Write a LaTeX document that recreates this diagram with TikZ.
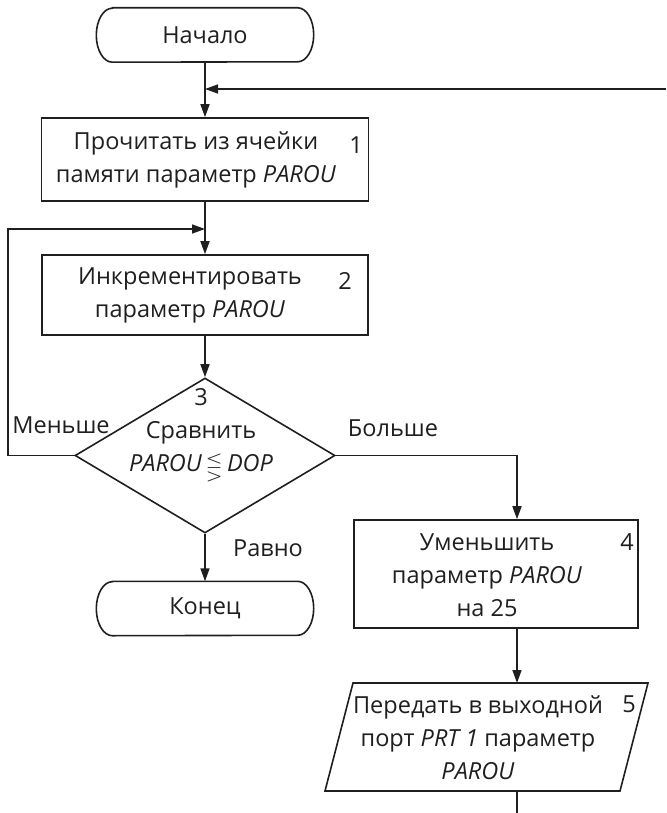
\documentclass[tikz,border=0pt]{standalone}
\usepackage{amssymb}
\usepackage{fontspec}
\setmainfont{Open Sans}
\usetikzlibrary{arrows.meta,shapes.geometric}

\begin{document}
\begin{tikzpicture}[x=1pt,y=-1pt,
  line/.style={line width=1.6pt, draw=black!88},
  arr/.style={line, -{Triangle[length=13pt,width=9pt]}},
  fnt/.style={font=\fontsize{23.5pt}{33pt}\selectfont, text=black!88},
  box/.style={line, rectangle, inner sep=0pt},
  term/.style={inner sep=0pt, minimum width=217pt, minimum height=54pt, fnt},
  txt/.style={fnt, align=center, inner sep=0pt},
  num/.style={fnt, inner sep=0pt, anchor=north east},
  lbl/.style={fnt, inner sep=0pt, anchor=base},
]
\useasboundingbox (0,0) rectangle (666,813);

% terminators
\node[term] (start) at (205,35) {Начало};
\node[term] (stop)  at (205,608.5) {Конец};
\foreach \t in {start,stop}{
  \draw[line] ([xshift=16pt]\t.north west) -- ([xshift=-16pt]\t.north east)
    arc[start angle=90, end angle=-90, x radius=16pt, y radius=27pt]
    -- ([xshift=16pt]\t.south west)
    arc[start angle=-90, end angle=-270, x radius=16pt, y radius=27pt] -- cycle;
}

% process blocks
\node[box, minimum width=327pt, minimum height=83pt] (b1) at (205,159.5) {};
\node[txt] (t1) at (196,160) {Прочитать из ячейки\\памяти параметр \textit{PAROU}};
\node[num] (n1) at (363,137) {1};

\node[box, minimum width=326pt, minimum height=80pt] (b2) at (205,295) {};
\node[txt] (t2) at (190,295) {Инкрементировать\\параметр \textit{PAROU}};
\node[num] (n2) at (352,272) {2};

% decision
\node[line, diamond, minimum width=260pt, minimum height=155pt, inner sep=0pt] (d3) at (205,455.5) {};
\node[txt] (t3) at (201,435) {3\\Сравнить\\\textit{PAROU}\,\raisebox{-2.5pt}{\fontsize{22pt}{22pt}\selectfont$\lesseqgtr$}\,\textit{DOP}};

\node[box, minimum width=284pt, minimum height=108pt] (b4) at (496,574) {};
\node[txt] (t4) at (487,575) {Уменьшить\\параметр \textit{PAROU}\\на 25};
\node[num] (n4) at (634,533) {4};

% output (parallelogram)
\coordinate (pTL) at (353,683);
\coordinate (pTR) at (648,683);
\coordinate (pBR) at (620,791);
\coordinate (pBL) at (325,791);
\draw[line] (pTL) -- (pTR) -- (pBR) -- (pBL) -- cycle;
\node[txt] (t5) at (478,738) {Передать в выходной\\порт \textit{PRT 1} параметр\\\textit{PAROU}};
\node[num] (n5) at (636,696) {5};

% branch labels
\node[lbl] (lless) at (61,433) {Меньше};
\node[lbl] (lmore) at (393,436) {Больше};
\node[lbl] (leq)   at (268,556) {Равно};

% free ends and bends
\coordinate (inR)  at (666,89);
\coordinate (outB) at (517,813);
\coordinate (lp)   at (8,229);

% connectors
\draw[arr] (start.south) -- (b1.north);
\draw[arr] (inR) -- (inR -| start.south);
\draw[arr] (b1.south) -- (b2.north);
\draw[arr] (d3.west) -| (lp) -- (lp -| b2.north);
\draw[arr] (b2.south) -- (d3.north);
\draw[arr] (d3.south) -- (stop.north);
\draw[arr] (d3.east) -| (b4.north -| outB);
\draw[arr] (b4.south -| outB) -- (pTL -| outB);
\draw[line] (pBL -| outB) -- (outB);
\end{tikzpicture}
\end{document}
